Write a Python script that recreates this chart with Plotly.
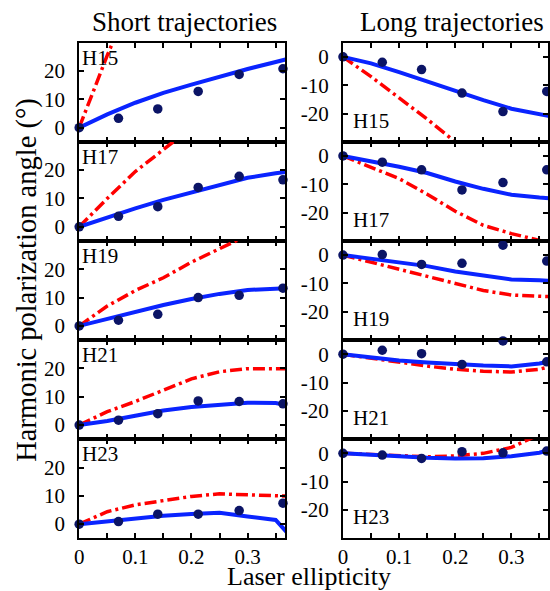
import plotly.graph_objects as go

# ---------------- data ----------------
harmonics = ["H15", "H17", "H19", "H21", "H23"]
ellipticity = [0, 0.07, 0.14, 0.212, 0.285, 0.363]          # measured points
theory_ell = [0, 0.05, 0.10, 0.15, 0.20, 0.25, 0.30, 0.35, 0.37]  # theory grid

# measured (dots)
short_meas = {
    "H15": [0, 3.3, 6.6, 12.8, 18.8, 20.8],
    "H17": [0, 3.7, 7.1, 13.9, 17.8, 16.6],
    "H19": [0, 2.0, 4.1, 10.0, 10.8, 13.3],
    "H21": [0, 1.7, 4.0, 8.5, 8.3, 7.5],
    "H23": [0, 0.9, 3.5, 3.5, 4.8, 7.4],
}
long_meas = {
    "H15": [0, -1.9, -4.5, -12.8, -19.3, -12.2],
    "H17": [0, -2.2, -4.9, -12.0, -9.4, -4.9],
    "H19": [0, 0.2, -3.3, -2.9, 3.5, -2.1],
    "H21": [0, 1.4, 0.2, -3.6, 4.7, -2.7],
    "H23": [0, -0.6, -1.8, 0.6, 0.2, 0.8],
}
# theory, solid blue
short_blue = {
    "H15": [0, 4.7, 8.8, 12.3, 15.2, 18.0, 20.7, 23.2, 24.2],
    "H17": [0, 3.3, 6.5, 9.5, 12.0, 14.8, 17.3, 18.9, 19.4],
    "H19": [0, 2.5, 5.0, 7.4, 9.5, 11.3, 12.7, 13.2, 13.3],
    "H21": [0, 1.4, 3.3, 5.1, 6.4, 7.3, 7.9, 7.8, 7.0],
    "H23": [0, 1.1, 2.2, 3.0, 3.6, 4.0, 2.7, 1.5, -2.9],
}
long_blue = {
    "H15": [0, -2.3, -5.4, -8.8, -12.0, -15.3, -18.3, -20.5, -21.0],
    "H17": [0, -1.8, -3.8, -6.0, -9.0, -11.6, -13.7, -14.7, -15.0],
    "H19": [0, -1.3, -2.5, -3.9, -5.8, -7.3, -8.6, -8.9, -9.1],
    "H21": [0, -1.1, -2.2, -2.9, -3.5, -4.0, -4.3, -3.3, -2.5],
    "H23": [0, -0.5, -1.2, -1.6, -1.8, -1.7, -1.0, 0.2, 1.4],
}
# theory, red dash-dot
short_red = {
    "H15": [0, 25.5, 49, 70, 88, 102, 113, 121, 124],
    "H17": [0, 10.0, 19.5, 27.5, 35.0, 41.0, 46.0, 50.0, 51.0],
    "H19": [0, 7.0, 12.5, 17.0, 22.5, 27.5, 32.0, 35.0, 36.0],
    "H21": [0, 4.7, 8.3, 12.3, 16.3, 18.8, 19.9, 19.9, 19.9],
    "H23": [0, 4.4, 6.8, 8.4, 9.8, 10.7, 10.3, 10.0, 9.9],
}
long_red = {
    "H15": [0, -7.0, -14.5, -22.0, -30.0, -37.0, -43.0, -48.0, -50.0],
    "H17": [0, -4.0, -8.0, -13.5, -19.5, -24.5, -27.4, -29.8, -31.0],
    "H19": [0, -2.5, -5.1, -7.6, -10.3, -12.5, -14.1, -14.5, -14.7],
    "H21": [0, -1.5, -2.9, -4.2, -5.3, -6.0, -6.3, -5.3, -4.3],
    "H23": [0, -0.4, -0.9, -1.2, -0.9, 0.0, 2.1, 6.5, 8.5],
}

col_titles = ["Short trajectories", "Long trajectories"]
x_tickvals = [0, 0.05, 0.10, 0.15, 0.20, 0.25, 0.30, 0.35]
x_ticktext = ["0", "", "0.1", "", "0.2", "", "0.3", ""]
short_yticks = [0, 10, 20]
short_yticktext = ["0", "10", "20"]
long_yticks = [0, -10, -20]
long_yticktext = ["0", "-10", "-20"]

# ---------------- style / layout ----------------
W, H = 550, 591
FONT = "Liberation Serif"
BLUE = "#0a24ff"
RED = "#ff0000"
NAVY = "#0b1466"

col_px = [(75.0, 283.3), (341.7, 549.0)]
row_top = 42.7
row_h = 99.12

def fx(px):
    return px / W

def fy(py):
    return 1 - py / H

fig = go.Figure()
layout = dict(
    width=W, height=H,
    margin=dict(l=0, r=0, t=0, b=0),
    paper_bgcolor="white", plot_bgcolor="white",
    showlegend=False,
    font=dict(family=FONT, size=21, color="black"),
)
annotations = []

for r, h in enumerate(harmonics):
    for c in range(2):
        idx = r * 2 + c + 1
        xa = "x" if idx == 1 else f"x{idx}"
        ya = "y" if idx == 1 else f"y{idx}"
        meas = short_meas if c == 0 else long_meas
        blue = short_blue if c == 0 else long_blue
        red = short_red if c == 0 else long_red

        fig.add_trace(go.Scatter(x=theory_ell, y=red[h], mode="lines",
                                 line=dict(color=RED, width=3.5, dash="12px,4px,3px,4px"),
                                 xaxis=xa, yaxis=ya))
        fig.add_trace(go.Scatter(x=theory_ell, y=blue[h], mode="lines",
                                 line=dict(color=BLUE, width=4),
                                 xaxis=xa, yaxis=ya))
        fig.add_trace(go.Scatter(x=ellipticity, y=meas[h], mode="markers",
                                 marker=dict(color=NAVY, size=9.5),
                                 cliponaxis=False, xaxis=xa, yaxis=ya))

        top = row_top + r * row_h
        bot = top + row_h
        x0, x1 = col_px[c]
        xkey = "xaxis" if idx == 1 else f"xaxis{idx}"
        ykey = "yaxis" if idx == 1 else f"yaxis{idx}"
        layout[xkey] = dict(
            domain=[fx(x0), fx(x1)], anchor=ya, range=[0, 0.367 * (x1 - x0) / 208.3],
            tickvals=x_tickvals, ticktext=x_ticktext,
            showticklabels=(r == 4),
            ticks="inside", ticklen=5, tickwidth=1.5, tickcolor="black",
            showline=True, linecolor="black", linewidth=2, mirror="ticks",
            showgrid=False, zeroline=False, ticklabelstandoff=-2,
            tickfont=dict(family=FONT, size=21),
        )
        layout[ykey] = dict(
            domain=[fy(bot), fy(top)], anchor=xa,
            range=[-5, 30] if c == 0 else [-30, 5],
            tickvals=short_yticks if c == 0 else long_yticks,
            ticktext=short_yticktext if c == 0 else long_yticktext,
            ticks="inside", ticklen=5, tickwidth=1.5, tickcolor="black",
            showline=True, linecolor="black", linewidth=2, mirror="ticks",
            showgrid=False, zeroline=False, ticklabelstandoff=8,
            tickfont=dict(family=FONT, size=21),
        )
        # harmonic label
        if c == 0:
            annotations.append(dict(text=h, x=fx(x0 + 1), y=fy(top + 1), xref="paper", yref="paper",
                                    xanchor="left", yanchor="top", showarrow=False,
                                    font=dict(family=FONT, size=21)))
        else:
            annotations.append(dict(text=h, x=fx(x0 + 8), y=fy(bot - 7), xref="paper", yref="paper",
                                    xanchor="left", yanchor="bottom", showarrow=False,
                                    font=dict(family=FONT, size=21)))

annotations.append(dict(text=col_titles[0], x=fx(181), y=fy(22), xref="paper", yref="paper",
                        xanchor="center", yanchor="middle", showarrow=False,
                        font=dict(family=FONT, size=27)))
annotations.append(dict(text=col_titles[1], x=fx(452), y=fy(22), xref="paper", yref="paper",
                        xanchor="center", yanchor="middle", showarrow=False,
                        font=dict(family=FONT, size=27)))
annotations.append(dict(text="Laser ellipticity", x=fx(307), y=fy(576.5), xref="paper", yref="paper",
                        xanchor="center", yanchor="middle", showarrow=False,
                        font=dict(family=FONT, size=26)))
annotations.append(dict(text="Harmonic polarization angle (°)", x=fx(22), y=fy(280), xref="paper",
                        yref="paper", xanchor="center", yanchor="middle", textangle=-90,
                        showarrow=False, font=dict(family=FONT, size=28.5)))
layout["annotations"] = annotations
fig.update_layout(**layout)
fig.write_html("out.html", config={"displayModeBar": False},
               post_script="document.body.style.margin='0';document.body.style.padding='0';")
